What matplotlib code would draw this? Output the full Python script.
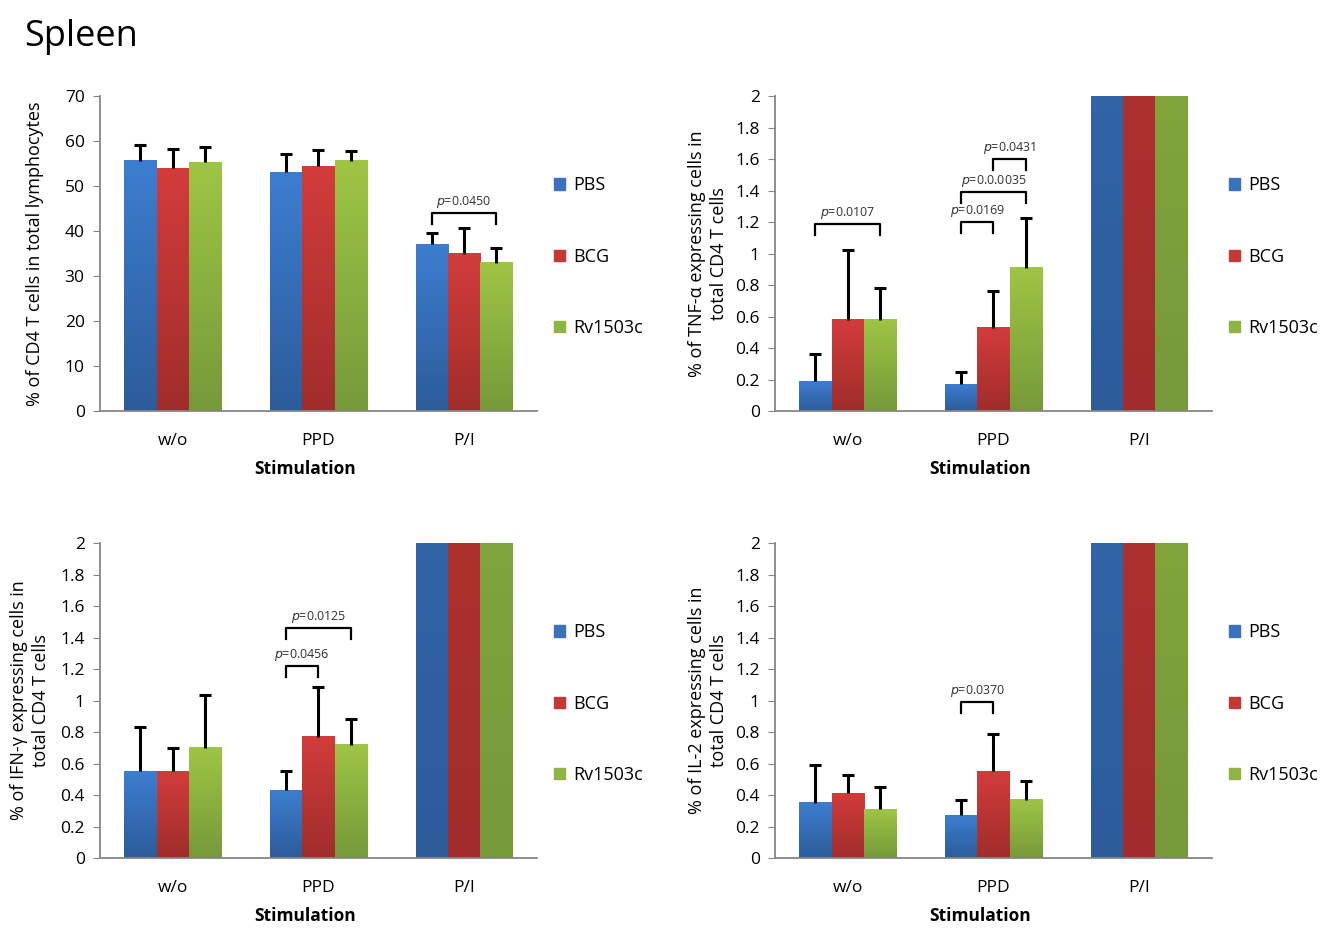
import numpy as np
import matplotlib
matplotlib.use('Agg')
import matplotlib.pyplot as plt
from matplotlib.colors import LinearSegmentedColormap
from matplotlib.patches import Patch

plt.rcParams['font.family'] = ['Open Sans', 'DejaVu Sans']

groups = ['w/o', 'PPD', 'P/I']
series = ['PBS', 'BCG', 'Rv1503c']

# % CD4 T cells in lymphocytes
cd4_mean = [[55.6, 53.1, 37.1], [54.0, 54.4, 34.9], [55.3, 55.6, 32.9]]
cd4_err = [[3.5, 4.0, 2.5], [4.2, 3.6, 5.7], [3.3, 2.2, 3.3]]

# cytokine expressing CD4 T cells (P/I goes off the scale)
tnf_mean = [[0.19, 0.17, 8.0], [0.58, 0.53, 8.0], [0.58, 0.91, 8.0]]
tnf_err = [[0.17, 0.08, 0], [0.44, 0.235, 0], [0.20, 0.315, 0]]
ifn_mean = [[0.55, 0.43, 8.0], [0.55, 0.77, 8.0], [0.70, 0.72, 8.0]]
ifn_err = [[0.28, 0.12, 0], [0.15, 0.315, 0], [0.335, 0.16, 0]]
il2_mean = [[0.35, 0.27, 8.0], [0.41, 0.55, 8.0], [0.31, 0.37, 8.0]]
il2_err = [[0.24, 0.10, 0], [0.12, 0.24, 0], [0.14, 0.12, 0]]

# brackets: (group, series a, series b, height, label)
cd4_sig = [(2, 0, 2, 44.1, '0.0450')]
tnf_sig = [(0, 0, 2, 1.19, '0.0107'), (1, 0, 1, 1.198, '0.0169'),
           (1, 0, 2, 1.392, '0.0.0035'), (1, 1, 2, 1.60, '0.0431')]
ifn_sig = [(1, 0, 1, 1.219, '0.0456'), (1, 0, 2, 1.462, '0.0125')]
il2_sig = [(1, 0, 1, 0.99, '0.0370')]

tops = ['#3d7dd0', '#d23c3b', '#9fc545']
bottoms = ['#2c5c9a', '#a02d2b', '#77993a']
legend_cols = ['#3a72c0', '#c43836', '#8fb443']
axis_gray = '#868686'


def draw_panel(ax, means, errs, sig, ymax, step, ylabel, ylpad):
    x = np.arange(len(groups))
    w = 2 / 3 / 3
    for k in range(3):
        pos = x + (k - 1) * w
        bars = ax.bar(pos, means[k], w, color='none', zorder=2)
        cmap = LinearSegmentedColormap.from_list('g%d' % k, [bottoms[k], tops[k]])
        grad = np.linspace(0, 1, 100).reshape(-1, 1)
        for b in bars:
            x0, h = b.get_x(), b.get_height()
            ax.imshow(grad, extent=(x0, x0 + b.get_width(), 0, h), origin='lower',
                      cmap=cmap, aspect='auto', zorder=2)
        e = np.array(errs[k])
        m = np.array(means[k])
        keep = e > 0
        _, caps, _ = ax.errorbar(pos[keep], m[keep], yerr=[np.zeros(keep.sum()), e[keep]],
                                 fmt='none', ecolor='black', elinewidth=2.2, capsize=4,
                                 capthick=2.2, zorder=3)
        caps[0].set_visible(False)  # only the upper cap
    leg = 0.035 * ymax
    for g, a, b, h, lab in sig:
        xa = g + (a - 1) * w
        xb = g + (b - 1) * w
        ax.plot([xa, xa, xb, xb], [h - leg, h, h, h - leg], color='black', lw=1.6, zorder=4)
        ax.annotate(r'$\it{p}$=' + lab, ((xa + xb) / 2, h), xytext=(0, 8),
                    textcoords='offset points', ha='center', va='center',
                    fontsize=9, color='#333333')
    ax.set_xlim(-0.5, 2.5)
    ax.set_ylim(0, ymax)
    ticks = np.arange(0, ymax + step / 2, step)
    ax.set_yticks(ticks)
    ax.set_yticklabels(['%g' % round(v, 1) for v in ticks])
    ax.set_xticks(x)
    ax.set_xticklabels(groups)
    ax.tick_params(axis='x', length=0, labelsize=12.5, pad=16)
    ax.tick_params(axis='y', length=5, color=axis_gray, labelsize=12.5, pad=6)
    for s in ['top', 'right']:
        ax.spines[s].set_visible(False)
    for s in ['left', 'bottom']:
        ax.spines[s].set_color(axis_gray)
        ax.spines[s].set_linewidth(1.3)
    ax.set_xlabel('Stimulation', fontsize=12.5, fontweight='bold')
    ax.xaxis.set_label_coords(0.47, -0.157)
    ax.set_ylabel(ylabel, fontsize=13, labelpad=ylpad, linespacing=1.3)
    handles = [Patch(color=c) for c in legend_cols]
    ax.legend(handles, series, loc='center left', bbox_to_anchor=(1.04, 0.49),
              frameon=False, fontsize=13, labelspacing=2.95, handlelength=0.6,
              handleheight=0.6, handletextpad=0.45, borderaxespad=0, borderpad=0)


fig = plt.figure(figsize=(13.29, 9.31), dpi=100)
ax1 = fig.add_axes([0.0752, 0.5585, 0.3288, 0.3383])
ax2 = fig.add_axes([0.5831, 0.5585, 0.3288, 0.3383])
ax3 = fig.add_axes([0.0752, 0.0784, 0.3288, 0.3383])
ax4 = fig.add_axes([0.5831, 0.0784, 0.3288, 0.3383])

draw_panel(ax1, cd4_mean, cd4_err, cd4_sig, 70, 10, '% of CD4 T cells in total lymphocytes', 15)
draw_panel(ax2, tnf_mean, tnf_err, tnf_sig, 2, 0.2, '% of TNF-α expressing cells in\ntotal CD4 T cells', 5)
draw_panel(ax3, ifn_mean, ifn_err, ifn_sig, 2, 0.2, '% of IFN-γ expressing cells in\ntotal CD4 T cells', 7.5)
draw_panel(ax4, il2_mean, il2_err, il2_sig, 2, 0.2, '% of IL-2 expressing cells in\ntotal CD4 T cells', 5)

fig.text(0.018, 0.96, 'Spleen', fontsize=26, va='center', ha='left')

fig.savefig('out.png', dpi=100)
